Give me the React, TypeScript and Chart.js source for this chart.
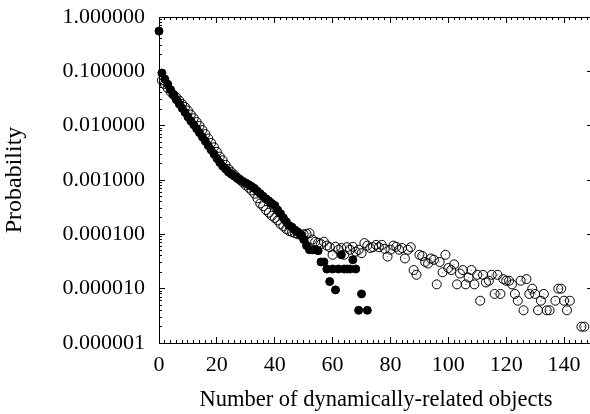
import React, { useEffect, useRef } from "react";
import { Chart, registerables } from "chart.js";

Chart.register(...registerables);

// Probability of each number of dynamically-related objects (index = number of objects)
const filledProbability: (number | null)[] = [
  0.55, 0.093, 0.072, 0.058, 0.046, 0.037, 0.03, 0.025, 0.021, 0.0175,
  0.0145, 0.0122, 0.0104, 0.0088, 0.0074, 0.0062, 0.0052, 0.0043, 0.0036, 0.003,
  0.0025, 0.0021, 0.0018, 0.0016, 0.0014, 0.00128, 0.00118, 0.0011, 0.00102, 0.00094,
  0.00088, 0.00082, 0.00076, 0.0007, 0.00062, 0.00056, 0.0005, 0.00045, 0.00041, 0.00037,
  0.00034, 0.00028, 0.00024, 0.0002, 0.00017, 0.000145, 0.000135, 0.00012, 0.00011, 0.000097,
  0.00008, 0.000062, 0.000052, 0.000052, 0.000052, 0.00005, 0.000031, 0.000031, 0.000023, 0.0000135,
  0.000023, 0.0000095, 0.000023, 0.000042, 0.000023, 0.000023, 0.000023, 0.000034, 0.000023, 0.000004,
  0.000008, null, 0.000004,
];

const openProbability: (number | null)[] = [
  null, 0.068, 0.058, 0.049, 0.042, 0.037, 0.033, 0.029, 0.025, 0.022,
  0.019, 0.016, 0.0137, 0.0117, 0.0099, 0.0083, 0.007, 0.0058, 0.0048, 0.004,
  0.0033, 0.0027, 0.0023, 0.0019, 0.0016, 0.0014, 0.00125, 0.0011, 0.001, 0.0009,
  0.0008, 0.00072, 0.00064, 0.00056, 0.00046, 0.00037, 0.00033, 0.00028, 0.00025, 0.00022,
  0.0002, 0.00018, 0.000155, 0.00014, 0.000125, 0.000115, 0.00011, 0.000105, 0.0001, 0.000098,
  0.0001, 0.000102, 0.000105, 0.00008, 0.000073, 0.00007, 0.000066, 0.000073, 0.000062, 0.000058,
  0.000042, 0.000059, 0.000052, 0.000056, 0.000042, 0.000058, 0.000052, 0.000059, 0.000048, 0.000052,
  0.000045, 0.000069, 0.000062, 0.000056, 0.000058, 0.000064, 0.000058, 0.000064, 0.000054, 0.000039,
  0.000052, 0.000062, 0.000059, 0.000052, 0.000056, 0.000036, 0.000052, 0.000058, 0.000022, 0.000018,
  0.000042, 0.00004, 0.000031, 0.000029, 0.000036, 0.000034, 0.000012, 0.000031, 0.00002, 0.000042,
  0.000024, 0.000022, 0.000028, 0.000012, 0.000019, 0.000022, 0.000012, 0.000016, 0.000022, 0.000012,
  0.000018, 0.000006, 0.000018, 0.000013, 0.000014, 0.000018, 0.000008, 0.000018, 0.000008, 0.000015,
  0.000014, 0.000014, 0.000012, 0.000008, 0.000006, 0.000014, 0.000004, 0.000015, 0.000008, 0.00001,
  0.000008, 0.000004, 0.000006, 0.000008, 0.000004, 0.000004, null, 0.000006, 0.00001, 0.00001,
  0.000006, 0.000004, 0.000006, null, null, null, 0.000002, 0.000002,
];

const xTickLabels = [0, 20, 40, 60, 80, 100, 120, 140];
const xRange = [0, 150];
const yTickValues = [0.000001, 0.00001, 0.0001, 0.001, 0.01, 0.1, 1];

const FONT = "'Liberation Serif', 'Times New Roman', Times, serif";

const toPoints = (arr: (number | null)[]) =>
  arr
    .map((p, i) => (p == null ? null : { x: i, y: p }))
    .filter((p) => p !== null) as { x: number; y: number }[];

const xMinorTicks: number[] = [];
for (let v = xRange[0]; v <= xRange[1]; v += 2) xMinorTicks.push(v);
const yMinorTicks: number[] = [];
for (let d = 0; d < yTickValues.length - 1; d++) {
  for (let k = 1; k <= 9; k++) yMinorTicks.push(k * yTickValues[d]);
}
yMinorTicks.push(yTickValues[yTickValues.length - 1]);

const setTicks = (values: number[]) => (scale: any) => {
  scale.ticks = values.map((v) => ({ value: v }));
};
const fixSize = (w: number | null, h: number | null) => (scale: any) => {
  if (w !== null) scale.width = w;
  if (h !== null) scale.height = h;
  scale.paddingLeft = 0;
  scale.paddingRight = 0;
  scale.paddingTop = 0;
  scale.paddingBottom = 0;
};

const tickAxis = (
  type: string,
  position: string,
  values: number[],
  len: number,
  horizontal: boolean,
  min: number,
  max: number
) => ({
  type,
  position,
  weight: 0,
  min,
  max,
  afterBuildTicks: setTicks(values),
  afterFit: horizontal ? fixSize(null, 0) : fixSize(0, null),
  grid: {
    display: true,
    drawOnChartArea: false,
    drawTicks: true,
    tickLength: -len,
    color: "#000",
    tickColor: "#000",
    tickWidth: 1,
    lineWidth: 1,
  },
  border: { display: true, color: "#000", width: 1 },
  ticks: { display: false, autoSkip: false },
  title: { display: false },
});

export default function App() {
  const ref = useRef<HTMLCanvasElement>(null);

  useEffect(() => {
    if (!ref.current) return;
    const openPoints = toPoints(openProbability);
    const filledPoints = toPoints(filledProbability);

    const chart = new Chart(ref.current, {
      type: "scatter",
      data: {
        datasets: [
          {
            label: "filled",
            data: filledPoints,
            pointStyle: "circle",
            pointRadius: 4,
            borderWidth: 1,
            borderColor: "#000",
            backgroundColor: "#000",
            showLine: false,
            clip: false as any,
            order: 0,
            xAxisID: "x",
            yAxisID: "y",
          },
          {
            label: "openDot",
            data: openPoints,
            pointStyle: "circle",
            pointRadius: 0.6,
            borderWidth: 0,
            backgroundColor: "#777",
            showLine: false,
            clip: false as any,
            order: 1,
            xAxisID: "x",
            yAxisID: "y",
          },
          {
            label: "open",
            data: openPoints,
            pointStyle: "circle",
            pointRadius: 4.5,
            borderWidth: 1,
            borderColor: "#000",
            backgroundColor: "rgba(0,0,0,0)",
            showLine: false,
            clip: false as any,
            order: 2,
            xAxisID: "x",
            yAxisID: "y",
          },
        ],
      },
      options: {
        responsive: false,
        animation: false,
        events: [],
        layout: { padding: { top: 17, right: 7, bottom: 0, left: 0 } },
        plugins: {
          legend: { display: false },
          tooltip: { enabled: false },
        },
        scales: {
          x: {
            type: "linear",
            position: "bottom",
            weight: 10,
            min: xRange[0],
            max: xRange[1],
            afterBuildTicks: setTicks(xTickLabels),
            afterFit: fixSize(null, 71),
            grid: {
              display: true,
              drawOnChartArea: false,
              drawTicks: true,
              tickLength: -6,
              color: "#000",
              tickColor: "#000",
              tickWidth: 1,
              lineWidth: 1,
            },
            border: { display: true, color: "#000", width: 1 },
            ticks: {
              display: true,
              autoSkip: false,
              maxRotation: 0,
              minRotation: 0,
              padding: 14.8,
              color: "#000",
              font: { family: FONT, size: 22 },
              callback: (v: any) => String(v),
            },
            title: {
              display: true,
              text: "Number of dynamically-related objects",
              color: "#000",
              font: { family: FONT, size: 22.5, lineHeight: 1.2 },
              padding: { top: 0, bottom: 0 },
            },
          } as any,
          xMinor: tickAxis("linear", "bottom", xMinorTicks, 3, true, xRange[0], xRange[1]) as any,
          xTop: tickAxis("linear", "top", xTickLabels, 6, true, xRange[0], xRange[1]) as any,
          xTopMinor: tickAxis("linear", "top", xMinorTicks, 3, true, xRange[0], xRange[1]) as any,
          y: {
            type: "logarithmic",
            position: "left",
            weight: 10,
            min: yTickValues[0],
            max: yTickValues[yTickValues.length - 1],
            afterBuildTicks: setTicks(yTickValues),
            afterFit: fixSize(159, null),
            grid: {
              display: true,
              drawOnChartArea: false,
              drawTicks: true,
              tickLength: -6,
              color: "#000",
              tickColor: "#000",
              tickWidth: 1,
              lineWidth: 1,
            },
            border: { display: true, color: "#000", width: 1 },
            ticks: {
              display: true,
              autoSkip: false,
              padding: 20,
              color: "#000",
              font: { family: FONT, size: 22 },
              callback: (v: any) => Number(v).toFixed(6),
            },
            title: {
              display: true,
              text: "Probability",
              color: "#000",
              font: { family: FONT, size: 24, lineHeight: 1.15 },
              padding: { top: 0.5, bottom: 0 },
            },
          } as any,
          yMinor: tickAxis("logarithmic", "left", yMinorTicks, 3, false, yTickValues[0], 1) as any,
          yRight: tickAxis("logarithmic", "right", yTickValues, 6, false, yTickValues[0], 1) as any,
          yRightMinor: tickAxis("logarithmic", "right", yMinorTicks, 3, false, yTickValues[0], 1) as any,
        },
      },
    });
    return () => chart.destroy();
  }, []);

  return (
    <div
      style={{
        position: "fixed",
        left: 0,
        top: 0,
        width: 590,
        height: 414,
        overflow: "hidden",
        background: "#fff",
      }}
    >
      <canvas ref={ref} width={600} height={414} style={{ width: 600, height: 414, display: "block" }} />
    </div>
  );
}
